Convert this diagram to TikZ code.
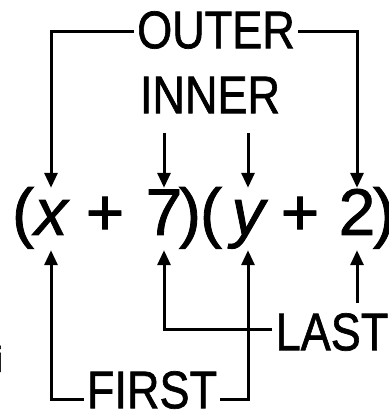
\documentclass[tikz,border=0pt]{standalone}
\usepackage{graphicx}
\usepackage{fontspec}
\setmainfont{Liberation Sans}[FakeBold=1.3,ItalicFeatures={FakeBold=1.3}]
\usetikzlibrary{arrows.meta}
\begin{document}
\begin{tikzpicture}[x=1pt,y=1pt,
  lbl/.style={inner sep=0pt,font=\fontsize{53}{56}\selectfont},
  expr/.style={inner sep=0pt,anchor=base,font=\fontsize{66}{70}\selectfont},
  term/.style={expr,text height=47pt,text depth=15pt},
  wire/.style={line width=3pt,line join=miter},
  arr/.style={wire,-{Triangle[width=13pt,length=15pt]}}]
\useasboundingbox (0,0) rectangle (388,412);
% expression
\node[expr] (lp1) at (23,177) {(};
\node[term] (x) at (51,177) {\itshape x};
\node[expr] (p1) at (105,177) {+};
\node[term] (seven) at (164,177) {7};
\node[expr] (rp1) at (190,177) {)};
\node[expr] (lp2) at (211,177) {(};
\node[term] (y) at (248,177) {\itshape y};
\node[expr] (p2) at (300,177) {+};
\node[term] (two) at (357,177) {2};
\node[expr] (rp2) at (384,177) {)};
% labels
\node[lbl] (outer) at (216,382) {\scalebox{0.85}[1]{OUTER}};
\node[lbl] (inner) at (210,317) {\scalebox{0.85}[1]{INNER}};
\node[lbl] (last) at (332,80) {\scalebox{0.85}[1]{LAST}};
\node[lbl] (first) at (152,22) {\scalebox{0.85}[1]{FIRST}};
\node[inner sep=0pt,anchor=base,font=\fontsize{36}{40}\selectfont] (i) at (-1,40) {i};
% coordinates
\coordinate (ol) at ([xshift=-3pt]outer.west |- 0,380);
\coordinate (or) at ([xshift=3pt]outer.east |- 0,380);
\coordinate (in1) at (164,279);
\coordinate (in2) at (248,279);
\coordinate (lastl) at ([xshift=-3pt]last.west |- 0,82);
\coordinate (lastt) at (357,109);
\coordinate (fl) at ([xshift=-3pt]first.west |- 0,12);
\coordinate (fr) at ([xshift=3pt]first.east |- 0,12);
% outer
\draw[arr] (ol) -| (x.north);
\draw[arr] (or) -| (two.north);
% inner
\draw[arr] (in1) -- (seven.north);
\draw[arr] (in2) -- (y.north);
% last
\draw[arr] (lastl) -| (seven.south);
\draw[arr] (lastt) -- (two.south);
% first
\draw[arr] (fl) -| (x.south);
\draw[arr] (fr) -| (y.south);
\end{tikzpicture}
\end{document}
